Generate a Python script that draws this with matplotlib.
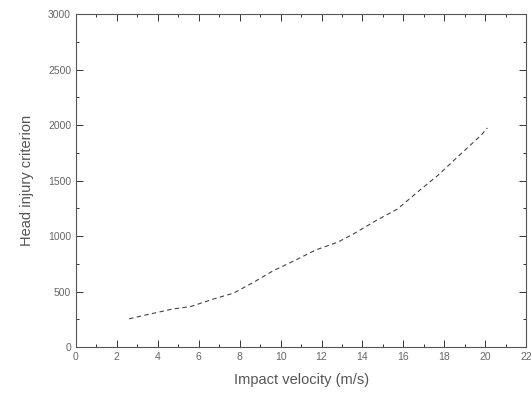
import matplotlib
matplotlib.use("Agg")
import matplotlib.pyplot as plt
from matplotlib.ticker import MultipleLocator

velocity = [2.6, 3.6, 4.7, 5.6, 6.7, 7.7, 8.7, 9.6, 10.8, 11.7, 12.8, 13.6, 14.7, 15.7, 16.8, 17.7, 18.9, 19.8, 20.1]
hic = [255, 297, 342, 365, 432, 486, 586, 684, 790, 874, 946, 1024, 1144, 1243, 1414, 1550, 1757, 1910, 1975]

plt.rcParams['font.family'] = ['Liberation Sans', 'DejaVu Sans']
fig = plt.figure(figsize=(5.31, 4.05), dpi=100)
ax = fig.add_axes([0.143, 0.143, 0.848, 0.822])
ax.plot(velocity, hic, color='#444444', lw=0.8, ls=(0, (4, 3)))
ax.set_xlim(0, 22)
ax.set_ylim(0, 3000)
ax.xaxis.set_major_locator(MultipleLocator(2))
ax.xaxis.set_minor_locator(MultipleLocator(1))
ax.yaxis.set_major_locator(MultipleLocator(500))
ax.yaxis.set_minor_locator(MultipleLocator(250))
ax.tick_params(which='both', direction='in', top=True, right=True, colors='#333333', labelcolor='#666666', labelsize=7.5, width=0.7)
ax.tick_params(which='major', length=5)
ax.tick_params(which='minor', length=2.5)
for s in ax.spines.values():
    s.set_color('#555555')
    s.set_linewidth(0.8)
ax.set_xlabel('Impact velocity (m/s)', fontsize=10.5, color='#555555', labelpad=8)
ax.set_ylabel('Head injury criterion', fontsize=10.5, color='#555555', labelpad=10)
fig.savefig('out.png', dpi=100)
